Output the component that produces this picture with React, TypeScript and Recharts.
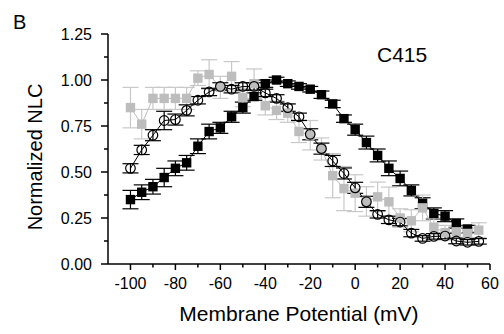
import React from 'react';
import { ComposedChart, Line, XAxis, YAxis, ErrorBar } from 'recharts';

// Membrane potential (mV)
const potentials = [
  -100, -95, -90, -85, -80, -75, -70, -65, -60, -55, -50, -45, -40, -35, -30, -25,
  -20, -15, -10, -5, 0, 5, 10, 15, 20, 25, 30, 35, 40, 45, 50, 55,
];

// Black filled squares (ends at 50 mV)
const blackNLC = [
  0.35, 0.39, 0.42, 0.47, 0.52, 0.55, 0.64, 0.72, 0.74, 0.8, 0.85, 0.91, 0.98, 1.0, 0.98, 0.965,
  0.95, 0.92, 0.87, 0.79, 0.73, 0.66, 0.59, 0.52, 0.465, 0.4, 0.33, 0.275, 0.26, 0.22, 0.19,
];
const blackErr = [
  0.05, 0.04, 0.04, 0.05, 0.04, 0.04, 0.04, 0.04, 0.03, 0.03, 0.03, 0.02, 0.02, 0.015, 0.015, 0.015,
  0.015, 0.02, 0.02, 0.02, 0.03, 0.035, 0.035, 0.04, 0.04, 0.03, 0.03, 0.03, 0.03, 0.025, 0.02,
];

// Grey filled squares
const greyNLC = [
  0.85, 0.76, 0.9, 0.9, 0.9, 0.9, 1.01, 1.03, 0.96, 1.02, 0.905, 0.98, 0.86, 0.835, 0.82, 0.72,
  0.7, 0.625, 0.48, 0.41, 0.385, 0.34, 0.365, 0.338, 0.25, 0.235, 0.305, 0.2, 0.17, 0.175, 0.166, 0.184,
];
const greyErr = [
  0.11, 0.08, 0.06, 0.06, 0.06, 0.06, 0.04, 0.08, 0.06, 0.08, 0.05, 0.08, 0.05, 0.05, 0.05, 0.06,
  0.08, 0.06, 0.12, 0.12, 0.1, 0.08, 0.08, 0.08, 0.05, 0.06, 0.07, 0.05, 0.04, 0.03, 0.03, 0.04,
];

// Open circles
const openNLC = [
  0.52, 0.62, 0.7, 0.78, 0.785, 0.835, 0.89, 0.935, 0.965, 0.95, 0.965, 0.965, 0.93, 0.9, 0.85, 0.8,
  0.705, 0.627, 0.56, 0.492, 0.414, 0.338, 0.27, 0.24, 0.228, 0.168, 0.139, 0.15, 0.152, 0.125, 0.118, 0.123,
];
const openErr = [
  0.025, 0.025, 0.03, 0.05, 0.03, 0.03, 0.02, 0.02, 0.02, 0.02, 0.02, 0.02, 0.02, 0.02, 0.02, 0.02,
  0.03, 0.03, 0.03, 0.03, 0.03, 0.03, 0.02, 0.02, 0.02, 0.02, 0.015, 0.015, 0.015, 0.015, 0.015, 0.015,
];

const xTicks = [-100, -90, -80, -70, -60, -50, -40, -30, -20, -10, 0, 10, 20, 30, 40, 50, 60];
const xLabelTicks = [-100, -80, -60, -40, -20, 0, 20, 40, 60];
const yTicks = [0, 0.125, 0.25, 0.375, 0.5, 0.625, 0.75, 0.875, 1.0, 1.125, 1.25];
const yLabelTicks = [0, 0.25, 0.5, 0.75, 1.0, 1.25];

const GREY = '#bdbdbd';
const GREY_ERR = '#c8c8c8';
const FONT = 'Arial, "Liberation Sans", Helvetica, sans-serif';

const blackData = blackNLC.map((v, i) => ({ x: potentials[i], y: v, e: blackErr[i] }));
const greyData = greyNLC.map((v, i) => ({ x: potentials[i], y: v, e: greyErr[i] }));
const openData = openNLC.map((v, i) => ({ x: potentials[i], y: v, e: openErr[i] }));

const XTick = (props: any) => {
  const { x, y, payload } = props;
  const major = xLabelTicks.includes(payload.value);
  return (
    <g>
      <line x1={x} x2={x} y1={y} y2={y + (major ? 6 : 3.5)} stroke="#000" strokeWidth={1.5} />
      {major && (
        <text x={x} y={y + 24.5} textAnchor="middle" fontSize={16} fontFamily={FONT} fill="#000">
          {payload.value}
        </text>
      )}
    </g>
  );
};

const YTick = (props: any) => {
  const { x, y, payload } = props;
  const major = yLabelTicks.some((t) => Math.abs(t - payload.value) < 1e-6);
  return (
    <g>
      <line x1={x - (major ? 7 : 4)} x2={x} y1={y} y2={y} stroke="#000" strokeWidth={1.5} />
      {major && (
        <text x={x - 16} y={y + 5.7} textAnchor="end" fontSize={16} fontFamily={FONT} fill="#000">
          {Number(payload.value).toFixed(2)}
        </text>
      )}
    </g>
  );
};

const squareDot = (fill: string, prefix: string) => (props: any) => {
  const { cx, cy, index } = props;
  if (cx == null || cy == null) return <g key={`${prefix}-${index}`} />;
  return <rect key={`${prefix}-${index}`} x={cx - 4.7} y={cy - 4.7} width={9.4} height={9.4} fill={fill} />;
};

const circleDot = (props: any) => {
  const { cx, cy, index } = props;
  if (cx == null || cy == null) return <g key={`c-${index}`} />;
  return <circle key={`c-${index}`} cx={cx} cy={cy} r={4.8} fill="none" stroke="#000" strokeWidth={1.2} />;
};

export default function App() {
  return (
    <div style={{ position: 'absolute', left: 0, top: 0, width: 504, height: 334, background: '#fff' }}>
      <ComposedChart
        width={504}
        height={334}
        margin={{ top: 34, right: 14, bottom: 0, left: 0 }}
      >
        <XAxis
          type="number"
          dataKey="x"
          domain={[-110, 60]}
          ticks={xTicks}
          interval={0}
          tick={<XTick />}
          tickLine={false}
          tickSize={0}
          tickMargin={0}
          axisLine={{ stroke: '#000', strokeWidth: 1.5 }}
          height={70}
          allowDataOverflow
        />
        <YAxis
          type="number"
          domain={[0, 1.25]}
          ticks={yTicks}
          interval={0}
          tick={<YTick />}
          tickLine={false}
          tickSize={0}
          tickMargin={0}
          axisLine={{ stroke: '#000', strokeWidth: 1.5 }}
          width={108}
          allowDataOverflow
        />
        <Line
          data={blackData}
          dataKey="y"
          stroke="#000"
          strokeWidth={1}
          dot={squareDot('#000', 'b')}
          activeDot={false}
          isAnimationActive={false}
        >
          <ErrorBar dataKey="e" direction="y" width={8} stroke="#000" strokeWidth={1.2} />
        </Line>
        <Line
          data={greyData}
          dataKey="y"
          stroke={GREY}
          strokeWidth={1}
          dot={squareDot(GREY, 'g')}
          activeDot={false}
          isAnimationActive={false}
        >
          <ErrorBar dataKey="e" direction="y" width={8} stroke={GREY_ERR} strokeWidth={1.2} />
        </Line>
        <Line
          data={openData}
          dataKey="y"
          stroke="#000"
          strokeWidth={1}
          dot={circleDot}
          activeDot={false}
          isAnimationActive={false}
        >
          <ErrorBar dataKey="e" direction="y" width={8} stroke="#000" strokeWidth={1.2} />
        </Line>
      </ComposedChart>
      <svg
        width={504}
        height={334}
        style={{ position: 'absolute', left: 0, top: 0, pointerEvents: 'none' }}
      >
        <text x={13} y={29} fontSize={20} fontFamily={FONT} fill="#000">B</text>
        <text x={377} y={61.5} fontSize={21} fontFamily={FONT} fill="#000">C415</text>
        <text
          x={35}
          y={157}
          transform="rotate(-90 35 157)"
          textAnchor="middle"
          dominantBaseline="central"
          fontSize={20}
          fontFamily={FONT}
          fill="#000"
        >
          Normalized NLC
        </text>
        <text x={299} y={321} textAnchor="middle" fontSize={21} fontFamily={FONT} fill="#000">
          Membrane Potential (mV)
        </text>
      </svg>
    </div>
  );
}
